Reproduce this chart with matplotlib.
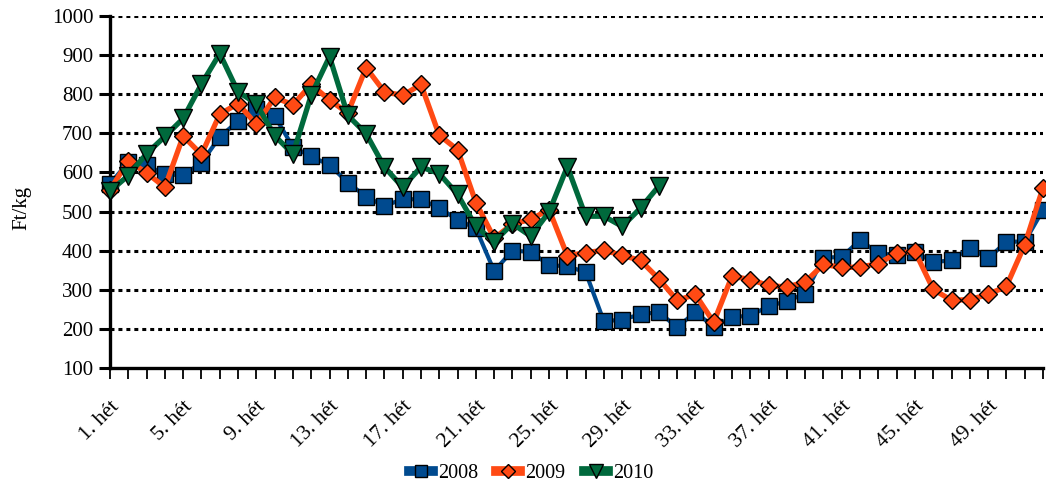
import matplotlib
matplotlib.use("Agg")
import matplotlib.pyplot as plt
import numpy as np

weeks = list(range(1, 53))
s2008 = [571, 626, 618, 595, 593, 625, 691, 731, 762, 744, 665, 641, 619, 574, 538, 514,
         532, 531, 509, 479, 457, 348, 400, 397, 363, 360, 345, 219, 224, 237, 243, 204,
         243, 205, 230, 234, 258, 271, 290, 382, 384, 427, 393, 389, 397, 371, 375, 408,
         380, 423, 423, 504]
s2009 = [555, 630, 599, 562, 693, 646, 749, 776, 723, 792, 773, 825, 785, 752, 868, 806,
         797, 825, 695, 658, 523, 432, 468, 480, 505, 387, 395, 401, 388, 375, 328, 273,
         288, 217, 335, 326, 311, 307, 320, 365, 357, 358, 367, 394, 398, 301, 273, 275,
         288, 309, 415, 561]
s2010 = [552, 592, 648, 692, 738, 826, 904, 806, 776, 694, 647, 798, 896, 746, 699, 614,
         562, 614, 597, 544, 462, 423, 469, 437, 499, 615, 488, 488, 462, 509, 565]
tick_labels = [f"{w}. hét" if (w - 1) % 4 == 0 else "" for w in weeks]
yticks = list(range(100, 1001, 100))

plt.rcParams['font.family'] = ['Liberation Serif', 'DejaVu Serif']

fig = plt.figure(figsize=(10.46, 4.83), dpi=100)
ax = fig.add_axes([110/1046, 1-368/483, (1043-110)/1046, (368-16)/483])

c08, c09, c10 = '#004A8F', '#FF4A14', '#00693C'

ax.plot(weeks, s2008, color=c08, lw=3.0, marker='s', ms=11.5, mfc=c08, mec='black',
        mew=1.0, clip_on=False, zorder=3, label='2008')
ax.plot(weeks, s2009, color=c09, lw=3.8, marker='D', ms=9, mfc=c09, mec='black',
        mew=1.0, clip_on=False, zorder=4, label='2009')
ax.plot(weeks[:len(s2010)], s2010, color=c10, lw=3.8, marker='v', ms=12.5, mfc=c10,
        mec='black', mew=1.0, clip_on=False, zorder=5, label='2010')

ax.set_xlim(1, 52)
ax.set_ylim(100, 1000)
ax.set_yticks(yticks)
ax.set_xticks(weeks)
ax.set_xticklabels(tick_labels, rotation=45, ha='right', va='top', rotation_mode='anchor',
                   fontsize=15.5)
ax.tick_params(axis='y', labelsize=15, length=8, width=2.2, direction='out', pad=4)
ax.tick_params(axis='x', length=8, width=1.3, direction='out', pad=13)

for v in yticks[1:]:
    ax.axhline(v, color='black', lw=2.2, ls=(0, (1.3, 1.3)), zorder=1)

for s in ['top', 'right']:
    ax.spines[s].set_visible(False)
for s in ['left', 'bottom']:
    ax.spines[s].set_linewidth(2.4)
    ax.spines[s].set_zorder(2)

fig.text(22/1046, 1-208/483, 'Ft/kg', rotation=90, ha='center', va='center', fontsize=15)

leg = fig.legend(loc='center', bbox_to_anchor=(531/1046, 1-473/483), ncol=3, frameon=False,
                 fontsize=14.5, numpoints=1, handlelength=1.2, handletextpad=0.25,
                 columnspacing=0.9, markerscale=0.8)
for h in leg.get_lines():
    h.set_linewidth(7)

fig.savefig('out.png', dpi=100)
